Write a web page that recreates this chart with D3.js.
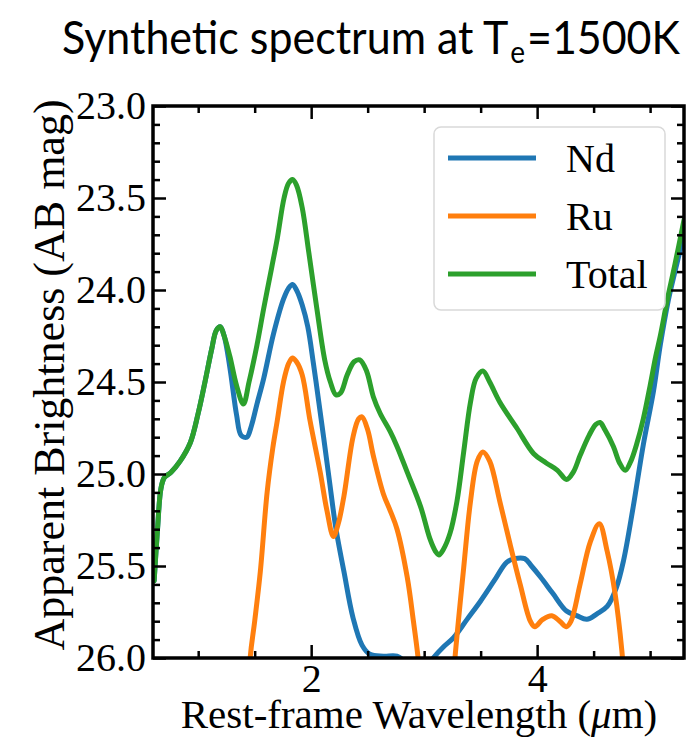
<!DOCTYPE html>
<html>
<head>
<meta charset="utf-8">
<script src="https://cdn.jsdelivr.net/npm/d3@7/dist/d3.min.js"></script>
<style>
  html, body { margin: 0; padding: 0; background: #ffffff; }
  svg { display: block; }
</style>
</head>
<body>
<svg id="chart" width="690" height="742"></svg>
<script>
// Synthetic spectrum: apparent AB magnitude vs rest-frame wavelength (µm)

// Nd contribution
const ndWavelength = [0.61, 0.64, 0.67, 0.70, 0.76, 0.84, 0.93, 1.00, 1.06, 1.12, 1.16, 1.195, 1.23,
  1.28, 1.34, 1.38, 1.43, 1.47, 1.52, 1.58, 1.666, 1.755, 1.80, 1.835, 1.87, 1.92, 1.97, 2.02, 2.07,
  2.11, 2.16, 2.22, 2.29, 2.37, 2.45, 2.52, 2.64, 2.76, 2.85, 2.95, 3.02, 3.08, 3.17, 3.26, 3.38,
  3.50, 3.62, 3.73, 3.80, 3.89, 3.95, 4.03, 4.14, 4.26, 4.35, 4.44, 4.53, 4.62, 4.70, 4.765, 4.85,
  4.94, 5.03, 5.09, 5.16, 5.22, 5.30];
const ndMag = [25.58, 25.30, 25.08, 25.02, 24.99, 24.93, 24.83, 24.67, 24.50, 24.32, 24.22, 24.20, 24.25,
  24.42, 24.68, 24.79, 24.80, 24.74, 24.62, 24.48, 24.24, 24.05, 23.99, 23.97, 24.00, 24.08, 24.20, 24.40, 24.62,
  24.80, 25.03, 25.30, 25.53, 25.78, 25.93, 25.98, 25.99, 25.99, 26.03, 26.08, 26.05, 26.00, 25.94, 25.89, 25.79,
  25.69, 25.58, 25.48, 25.46, 25.46, 25.50, 25.56, 25.65, 25.745, 25.77, 25.79, 25.76, 25.72, 25.62, 25.47, 25.18,
  24.84, 24.55, 24.30, 24.06, 23.90, 23.70];

// Ru contribution
const ruWavelength = [1.40, 1.46, 1.50, 1.55, 1.61, 1.66, 1.70, 1.755, 1.80, 1.835, 1.87, 1.92, 1.99,
  2.08, 2.14, 2.197, 2.24, 2.29, 2.37, 2.42, 2.45, 2.50, 2.55, 2.64, 2.70, 2.76, 2.85, 2.905, 2.95,
  3.00, 3.10, 3.20, 3.27, 3.35, 3.41, 3.47, 3.52, 3.58, 3.67, 3.76, 3.85, 3.94, 3.98, 4.05, 4.13,
  4.20, 4.26, 4.30, 4.38, 4.47, 4.55, 4.62, 4.69, 4.75, 4.78, 4.85];
const ruMag = [26.80, 26.00, 25.80, 25.53, 25.10, 24.86, 24.71, 24.50, 24.40, 24.37, 24.39, 24.46, 24.71,
  24.99, 25.20, 25.34, 25.27, 25.12, 24.80, 24.70, 24.69, 24.76, 24.90, 25.11, 25.20, 25.30, 25.56, 25.80, 26.02,
  26.40, 27.00, 26.60, 26.02, 25.51, 25.15, 24.93, 24.88, 24.93, 25.15, 25.38, 25.60, 25.80, 25.83, 25.79, 25.77,
  25.80, 25.83, 25.80, 25.60, 25.37, 25.27, 25.42, 25.65, 25.96, 26.20, 26.80];

// Total spectrum
const totalWavelength = [0.61, 0.64, 0.67, 0.70, 0.76, 0.84, 0.93, 1.00, 1.06, 1.12, 1.16, 1.195, 1.23,
  1.28, 1.34, 1.40, 1.45, 1.52, 1.58, 1.65, 1.70, 1.76, 1.80, 1.835, 1.87, 1.92, 1.98, 2.05, 2.12,
  2.17, 2.22, 2.26, 2.32, 2.38, 2.43, 2.49, 2.55, 2.61, 2.70, 2.76, 2.85, 2.97, 3.05, 3.10, 3.13,
  3.17, 3.23, 3.29, 3.35, 3.41, 3.46, 3.52, 3.58, 3.67, 3.82, 3.97, 4.08, 4.18, 4.26, 4.32, 4.38,
  4.46, 4.52, 4.557, 4.60, 4.675, 4.73, 4.78, 4.83, 4.88, 4.94, 5.00, 5.05, 5.09, 5.15, 5.22, 5.30];
const totalMag = [25.58, 25.30, 25.08, 25.02, 24.99, 24.93, 24.83, 24.67, 24.50, 24.32, 24.22, 24.20, 24.25,
  24.36, 24.52, 24.62, 24.50, 24.30, 24.10, 23.88, 23.72, 23.50, 23.42, 23.40, 23.43, 23.55, 23.80, 24.10, 24.38,
  24.50, 24.57, 24.56, 24.46, 24.39, 24.38, 24.44, 24.58, 24.67, 24.77, 24.85, 24.99, 25.18, 25.35, 25.42, 25.44,
  25.41, 25.32, 25.15, 24.88, 24.61, 24.48, 24.44, 24.50, 24.61, 24.75, 24.89, 24.94, 24.98, 25.03, 24.99, 24.90,
  24.79, 24.73, 24.72, 24.76, 24.85, 24.94, 24.98, 24.93, 24.84, 24.70, 24.52, 24.36, 24.25, 24.06, 23.86, 23.62];

const seriesNames = ["Nd", "Ru", "Total"];
const seriesColors = ["#1f77b4", "#ff7f0e", "#2ca02c"];

// Axis ranges and tick values
const xDomain = [0.6, 5.3];
const yDomain = [23.0, 26.0];
const xMajorTicks = [2, 4];
const xMinorTicks = [1, 1.5, 2.5, 3, 3.5, 4.5, 5];
const yMajorTicks = [23.0, 23.5, 24.0, 24.5, 25.0, 25.5, 26.0];
const yMinorTicks = d3.range(23.1, 26.0, 0.1).filter(v => Math.abs(v * 2 - Math.round(v * 2)) > 1e-6);

const series = [
  { name: seriesNames[0], color: seriesColors[0], pts: ndWavelength.map((w, i) => [w, ndMag[i]]) },
  { name: seriesNames[1], color: seriesColors[1], pts: ruWavelength.map((w, i) => [w, ruMag[i]]) },
  { name: seriesNames[2], color: seriesColors[2], pts: totalWavelength.map((w, i) => [w, totalMag[i]]) }
];

const svg = d3.select("#chart");
const margin = { left: 153, top: 106, right: 690 - 684, bottom: 742 - 658 };
const W = 690 - margin.left - margin.right;
const H = 742 - margin.top - margin.bottom;

const x = d3.scaleLinear().domain(xDomain).range([0, W]);
// magnitudes: brighter (smaller) at the top
const y = d3.scaleLinear().domain(yDomain).range([0, H]);

const serif = "'Liberation Serif', 'Times New Roman', serif";

// Title
const title = svg.append("text")
  .attr("x", 62).attr("y", 54)
  .attr("textLength", 618)
  .attr("lengthAdjust", "spacingAndGlyphs")
  .style("font-family", "Lato, 'Open Sans', sans-serif")
  .style("font-size", "46px")
  .style("fill", "#000");
title.append("tspan").text("Synthetic spectrum at T");
title.append("tspan").attr("dx", 2).attr("dy", 9).style("font-size", "30px").text("e");
title.append("tspan").attr("dx", 2).attr("dy", -9).text("=1500K");

const g = svg.append("g").attr("transform", `translate(${margin.left},${margin.top})`);

g.append("clipPath").attr("id", "plot-clip")
  .append("rect").attr("x", 0).attr("y", 0).attr("width", W).attr("height", H);

// Curves
const line = d3.line()
  .x(d => x(d[0]))
  .y(d => y(d[1]))
  .curve(d3.curveCatmullRom.alpha(0.5));

g.append("g").attr("clip-path", "url(#plot-clip)")
  .selectAll("path")
  .data(series)
  .join("path")
  .attr("d", d => line(d.pts))
  .attr("fill", "none")
  .attr("stroke", d => d.color)
  .attr("stroke-width", 5)
  .attr("stroke-linejoin", "round")
  .attr("stroke-linecap", "round");

// Axes with inward ticks on all four sides
function styleAxis(sel, width) {
  sel.select(".domain").remove();
  sel.selectAll(".tick line").attr("stroke", "#000").attr("stroke-width", width);
  sel.selectAll(".tick text")
    .style("font-family", serif)
    .style("font-size", "40px")
    .attr("fill", "#000");
}

const major = 13, minor = 7;

g.append("g").attr("transform", `translate(0,${H})`)
  .call(d3.axisBottom(x).tickValues(xMajorTicks).tickFormat(d3.format("d")).tickSize(-major).tickPadding(6))
  .call(s => styleAxis(s, 2.5));
g.append("g").attr("transform", `translate(0,${H})`)
  .call(d3.axisBottom(x).tickValues(xMinorTicks).tickFormat("").tickSize(-minor))
  .call(s => styleAxis(s, 2.5));
g.append("g")
  .call(d3.axisTop(x).tickValues(xMajorTicks).tickFormat("").tickSize(-major))
  .call(s => styleAxis(s, 2.5));
g.append("g")
  .call(d3.axisTop(x).tickValues(xMinorTicks).tickFormat("").tickSize(-minor))
  .call(s => styleAxis(s, 2.5));

g.append("g")
  .call(d3.axisLeft(y).tickValues(yMajorTicks).tickFormat(d3.format(".1f")).tickSize(-major).tickPadding(7))
  .call(s => styleAxis(s, 2.5));
g.append("g")
  .call(d3.axisLeft(y).tickValues(yMinorTicks).tickFormat("").tickSize(-minor))
  .call(s => styleAxis(s, 2.5));
g.append("g").attr("transform", `translate(${W},0)`)
  .call(d3.axisRight(y).tickValues(yMajorTicks).tickFormat("").tickSize(-major))
  .call(s => styleAxis(s, 2.5));
g.append("g").attr("transform", `translate(${W},0)`)
  .call(d3.axisRight(y).tickValues(yMinorTicks).tickFormat("").tickSize(-minor))
  .call(s => styleAxis(s, 2.5));

// Frame
g.append("rect")
  .attr("x", 0).attr("y", 0).attr("width", W).attr("height", H)
  .attr("fill", "none").attr("stroke", "#000").attr("stroke-width", 3.5);

// Axis labels
const xl = svg.append("text")
  .attr("x", 419).attr("y", 728)
  .attr("text-anchor", "middle")
  .style("font-family", serif).style("font-size", "41px").attr("fill", "#000");
xl.append("tspan").text("Rest-frame Wavelength (");
xl.append("tspan").style("font-style", "italic").text("μ");
xl.append("tspan").text("m)");

svg.append("text")
  .attr("transform", "translate(64,375) rotate(-90)")
  .attr("text-anchor", "middle")
  .style("font-family", serif).style("font-size", "44px").attr("fill", "#000")
  .text("Apparent Brightness (AB mag)");

// Legend
const legend = svg.append("g").attr("transform", "translate(434,127)");
legend.append("rect")
  .attr("width", 231).attr("height", 183).attr("rx", 7)
  .attr("fill", "#fff").attr("fill-opacity", 0.8)
  .attr("stroke", "#d9d9d9").attr("stroke-width", 1.5);
const items = legend.selectAll("g.item").data(series).join("g")
  .attr("class", "item")
  .attr("transform", (d, i) => `translate(0,${31 + i * 58})`);
items.append("line")
  .attr("x1", 14).attr("x2", 102)
  .attr("stroke", d => d.color).attr("stroke-width", 5);
items.append("text")
  .attr("x", 132).attr("dy", "0.35em")
  .style("font-family", serif).style("font-size", "40px").attr("fill", "#000")
  .text(d => d.name);
</script>
</body>
</html>
